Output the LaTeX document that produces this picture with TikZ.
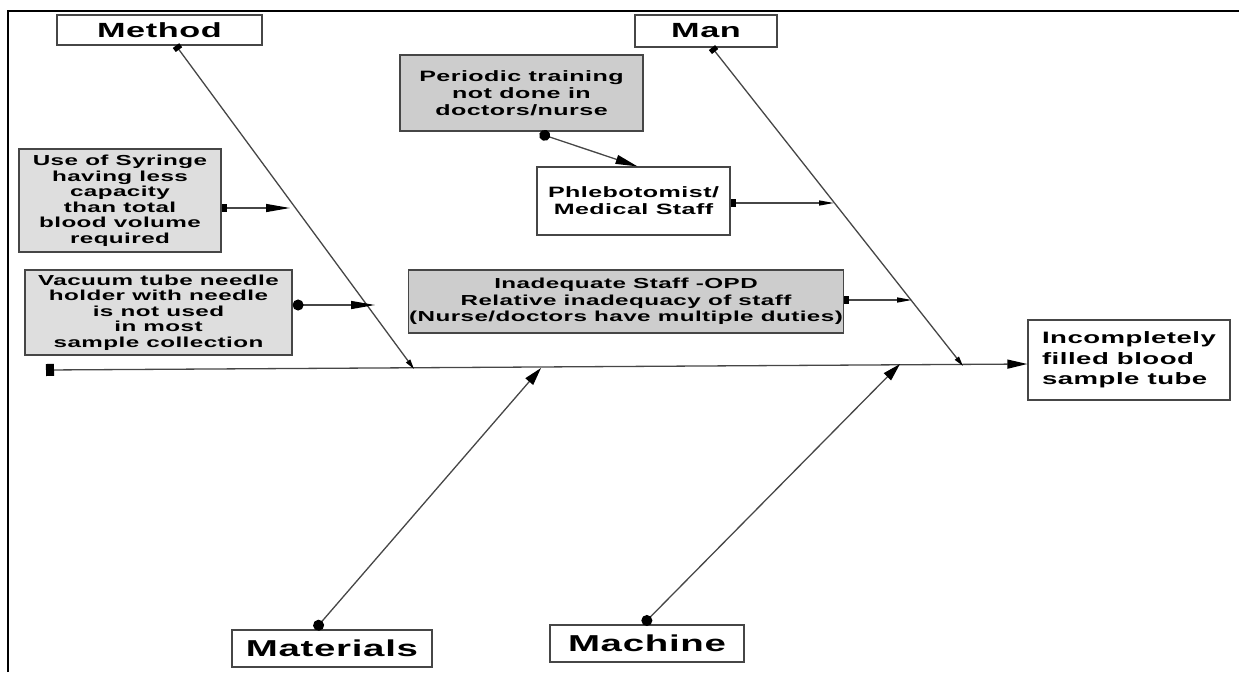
\documentclass[tikz,border=0pt]{standalone}
\usepackage{fontspec}
\setmainfont{Liberation Sans}[FakeStretch=1.67,LetterSpace=3]
\usetikzlibrary{arrows.meta,calc}
\definecolor{darkfill}{RGB}{205,205,205}
\definecolor{lightfill}{RGB}{222,222,222}
\definecolor{edge}{RGB}{70,70,70}
\tikzset{
  sq/.tip={Square[length=5pt,width=8pt,black]},
  dt/.tip={Circle[length=11pt,width=11pt,black]},
  box/.style={draw=edge,line width=1.2pt,inner sep=1pt,align=center,
    font=\bfseries\fontsize{15}{17}\selectfont},
  cat/.style={draw=edge,line width=1.2pt,inner sep=1pt,
    font=\bfseries\fontsize{23}{25}\selectfont},
  bone/.style={draw=edge,line width=1.3pt}
}
\begin{document}
\begin{tikzpicture}[x=1pt,y=-1pt]
\useasboundingbox (0,0) rectangle (1239,672);
\draw[line width=2.5pt] (8,672) -- (8,11) -- (1239,11);

% category boxes
\node[cat,minimum width=205pt,minimum height=30pt,font=\bfseries\fontsize{20.5}{24}\selectfont] (method) at (159.5,30) {Method};
\node[cat,minimum width=142pt,minimum height=32pt,font=\bfseries\fontsize{20.5}{24}\selectfont] (man) at (706,31) {Man};
\node[cat,minimum width=200pt,minimum height=37pt] (materials) at (332,648.5) {Materials};
\node[cat,minimum width=194pt,minimum height=37pt] (machine) at (647,643.5) {Machine};

% cause boxes
\node[box,fill=darkfill,minimum width=243pt,minimum height=76pt] (periodic) at (521.5,93)
  {Periodic training\\not done in\\doctors/nurse};
\node[box,fill=white,minimum width=193pt,minimum height=68pt] (phleb) at (633.5,201)
  {Phlebotomist/\\Medical Staff};
\node[box,fill=lightfill,minimum width=202pt,minimum height=103pt,font=\bfseries\fontsize{14.5}{15.5}\selectfont] (syringe) at (120,200.5)
  {Use of Syringe\\having less\\capacity\\than total\\blood volume\\required};
\node[box,fill=lightfill,minimum width=267pt,minimum height=85pt,font=\bfseries\fontsize{14.5}{15.5}\selectfont] (vacuum) at (158.5,312.5)
  {Vacuum tube needle\\holder with needle\\is not used\\in most\\sample collection};
\node[box,fill=darkfill,minimum width=432pt,minimum height=63pt,font=\bfseries\fontsize{14.5}{16.5}\selectfont] (inadeq) at (626,301.5)
  {Inadequate Staff -OPD\\Relative inadequacy of staff\\(Nurse/doctors have multiple duties)};
\node[box,fill=white,minimum width=202pt,minimum height=80pt,align=left,
  font=\bfseries\fontsize{16.5}{20.5}\selectfont] (effect) at (1129,360)
  {Incompletely\\filled blood\\sample tube};

% coordinates on the bones
\coordinate (sp0) at (46,370);
\coordinate (mt) at (176,46);
\coordinate (mb) at (414,369);
\coordinate (nt) at (712,47);
\coordinate (nb) at (963,366);
\coordinate (matb) at (541,368);
\coordinate (mcb) at (900,364);
\coordinate (a1) at (290,208);
\coordinate (a2) at (375,305);
\coordinate (a3) at (834,203);
\coordinate (a4) at (912,300);

% spine
\draw[bone,{Square[length=8pt,width=12pt,black]}-{Triangle[length=20pt,width=9pt,black]}]
  (sp0) -- ($(effect.west)+(0,4)$);

% bones
\draw[bone,sq-{Triangle[length=10pt,width=5pt,black]}] (method.south -| mt) -- (mb);
\draw[bone,sq-{Triangle[length=10pt,width=5pt,black]}] (man.south -| nt) -- (nb);
\draw[bone,dt-{Triangle[length=18pt,width=10pt,black]}] ($(materials.north)+(-17,0)$) -- (matb);
\draw[bone,dt-{Triangle[length=18pt,width=10pt,black]}] ($(machine.north)+(-4,0)$) -- (mcb);

% sub-cause arrows
\draw[bone,sq-{Triangle[length=24pt,width=8pt,black]}] (syringe.east |- a1) -- (a1);
\draw[bone,dt-{Triangle[length=24pt,width=8pt,black]}] (vacuum.east |- a2) -- (a2);
\draw[bone,dt-{Triangle[length=22pt,width=9pt,black]}] ($(periodic.south)+(18,2)$) -- ($(phleb.north)+(4,0)$);
\draw[bone,sq-{Triangle[length=15pt,width=5pt,black]}] (phleb.east |- a3) -- (a3);
\draw[bone,sq-{Triangle[length=15pt,width=5pt,black]}] (inadeq.east |- a4) -- (a4);
\end{tikzpicture}
\end{document}
